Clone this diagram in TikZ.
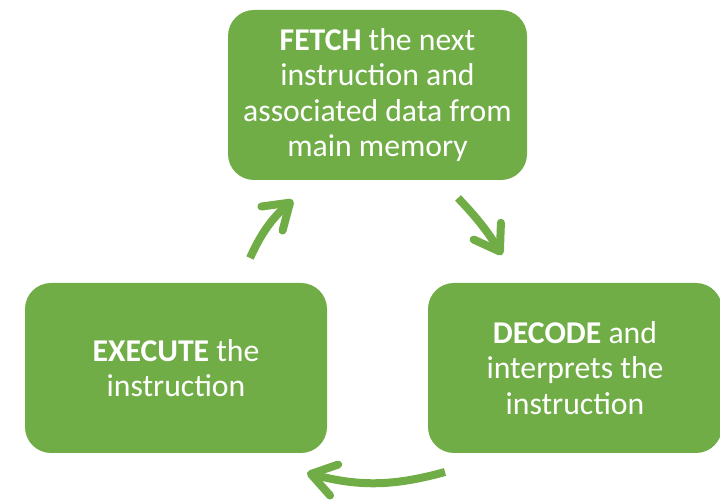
\documentclass[tikz,border=0pt]{standalone}
\usepackage{fontspec}
\setmainfont{Carlito}
\usetikzlibrary{arrows.meta}
\definecolor{leaf}{HTML}{70AD47}
\begin{document}
\begin{tikzpicture}[x=1pt,y=1pt,
  stage/.style={fill=leaf, draw=none, rounded corners=26pt, text=white,
    align=center, inner sep=0pt,
    font=\fontsize{31.7}{35.2}\selectfont},
  cycle/.style={draw=leaf, line width=8pt,
    -{Straight Barb[length=24pt,width=32pt,round]}}]
  \useasboundingbox (0,0) rectangle (720,500);

  % the three stages of the cycle
  \node[stage, minimum width=299pt, minimum height=170pt] (fetch) at (377.5,405)
    {\textbf{FETCH} the next\\instruction and\\associated data from\\main memory};
  \node[stage, minimum width=294pt, minimum height=170pt] (decode) at (575,132)
    {\textbf{DECODE} and\\interprets the\\instruction};
  \node[stage, minimum width=302pt, minimum height=170pt] (execute) at (176,132)
    {\textbf{EXECUTE} the\\instruction};

  % arrow end points in the gaps between the stages
  \coordinate (e1) at (250,242);
  \coordinate (f1) at (293,300);
  \coordinate (f2) at (458,302);
  \coordinate (d2) at (502,245);
  \coordinate (d3) at (445,28);
  \coordinate (e3) at (307,27);

  \draw[cycle] (e1) to[bend left=12] (f1);
  \draw[cycle] (f2) to[bend left=6] (d2);
  \draw[cycle] (d3) to[bend left=15] (e3);
\end{tikzpicture}
\end{document}
